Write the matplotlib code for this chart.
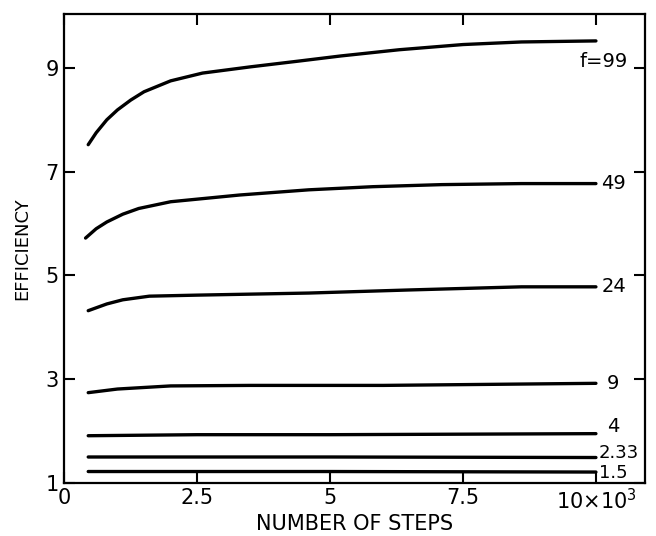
import matplotlib
matplotlib.use("Agg")
import matplotlib.pyplot as plt

plt.rcParams['font.family'] = ['DejaVu Sans']

# ---- data ----
f99_x = [0.45, 0.6, 0.8, 1.0, 1.25, 1.5, 2.0, 2.6, 3.5, 4.4, 5.2, 6.3, 7.5, 8.6, 10.0]
f99_y = [7.52, 7.75, 8.0, 8.19, 8.38, 8.54, 8.75, 8.90, 9.02, 9.13, 9.23, 9.35, 9.45, 9.50, 9.52]

f49_x = [0.4, 0.6, 0.8, 1.1, 1.4, 2.0, 3.3, 4.6, 5.8, 7.1, 8.6, 10.0]
f49_y = [5.72, 5.90, 6.03, 6.18, 6.29, 6.42, 6.55, 6.65, 6.71, 6.75, 6.77, 6.77]

f24_x = [0.45, 0.8, 1.1, 1.6, 2.5, 4.6, 6.5, 8.6, 10.0]
f24_y = [4.32, 4.45, 4.53, 4.60, 4.62, 4.66, 4.72, 4.78, 4.78]

f9_x = [0.45, 1.0, 2.0, 3.5, 6.0, 8.0, 10.0]
f9_y = [2.74, 2.81, 2.87, 2.88, 2.88, 2.90, 2.92]

f4_x = [0.45, 2.5, 5.0, 7.5, 10.0]
f4_y = [1.91, 1.93, 1.93, 1.94, 1.95]

f233_x = [0.45, 5.0, 10.0]
f233_y = [1.50, 1.50, 1.49]

f15_x = [0.45, 5.0, 10.0]
f15_y = [1.22, 1.22, 1.21]

series_x = [f99_x, f49_x, f24_x, f9_x, f4_x, f233_x, f15_x]
series_y = [f99_y, f49_y, f24_y, f9_y, f4_y, f233_y, f15_y]
series_labels = ["f=99", "49", "24", "9", "4", "2.33", "1.5"]

x_ticks = [0, 2.5, 5, 7.5, 10]
x_tick_labels = ["0", "2.5", "5", "7.5", "10×10$^3$"]
y_ticks = [1, 3, 5, 7, 9]
y_tick_labels = ["1", "3", "5", "7", "9"]

# ---- label placement (style) ----
label_dx = [-0.3, 0.1, 0.1, 0.2, 0.2, 0.05, 0.05]
label_dy = [-0.40, 0.0, 0.0, 0.0, 0.13, 0.08, -0.02]
label_fs = [14, 14, 14, 14, 14, 13, 13]

fig = plt.figure(figsize=(6.56, 5.36), dpi=100)
ax = fig.add_axes([0.098, 0.099, 0.885, 0.875])

for xs, ys, lab, dx, dy, fs in zip(series_x, series_y, series_labels,
                                   label_dx, label_dy, label_fs):
    ax.plot(xs, ys, color="black", lw=2.4, solid_capstyle="round")
    ax.text(xs[-1] + dx, ys[-1] + dy, lab, fontsize=fs, ha="left", va="center")

ax.set_xlim(0, 10.92)
ax.set_ylim(1, 10.04)
ax.set_xticks(x_ticks)
ax.set_xticklabels(x_tick_labels)
ax.set_yticks(y_ticks)
ax.set_yticklabels(y_tick_labels)
ax.tick_params(direction="in", length=8, width=1.5, labelsize=15,
               top=True, right=True)
ax.tick_params(axis="x", pad=4)
ax.tick_params(axis="y", pad=4)
for s in ax.spines.values():
    s.set_linewidth(1.6)

ax.set_xlabel("NUMBER OF STEPS", fontsize=15, labelpad=0)
ax.set_ylabel("EFFICIENCY", fontsize=13, labelpad=10)

fig.savefig("out.png", dpi=100)
